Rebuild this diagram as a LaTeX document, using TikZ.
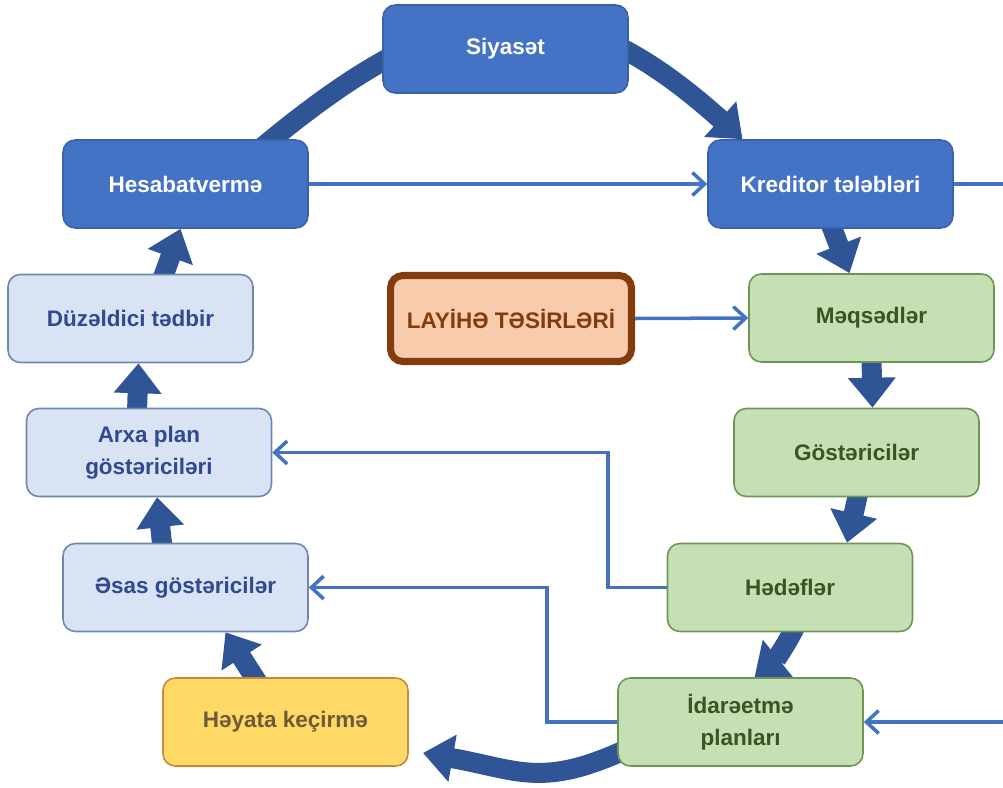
\documentclass[tikz,border=0pt]{standalone}
\usepackage{fontspec}
\setmainfont{Liberation Sans}
\usetikzlibrary{arrows.meta,calc,backgrounds}

\definecolor{boxblue}{HTML}{4472C4}
\definecolor{boxblueline}{HTML}{3A62AA}
\definecolor{flowblue}{HTML}{2F5597}
\definecolor{linkblue}{HTML}{4472C4}
\definecolor{lightfill}{HTML}{DAE3F3}
\definecolor{lightline}{HTML}{6C87B0}
\definecolor{lighttext}{HTML}{2F4A8F}
\definecolor{greenfill}{HTML}{C5E0B4}
\definecolor{greenline}{HTML}{6E9456}
\definecolor{greentext}{HTML}{375623}
\definecolor{impactfill}{HTML}{F8CBAD}
\definecolor{impactline}{HTML}{843C0C}
\definecolor{yellowfill}{HTML}{FFD966}
\definecolor{yellowline}{HTML}{C8893C}
\definecolor{yellowtext}{HTML}{6E5B3A}

\tikzset{
  box/.style={rectangle, rounded corners=7pt, minimum width=4.9cm, minimum height=1.76cm,
    line width=0.9pt, align=center, font=\fontsize{12.8}{18}\selectfont\bfseries},
  bluebox/.style={box, fill=boxblue, draw=boxblueline, text=white},
  lightbox/.style={box, fill=lightfill, draw=lightline, text=lighttext},
  greenbox/.style={box, fill=greenfill, draw=greenline, text=greentext},
  impactbox/.style={box, fill=impactfill, draw=impactline, text=impactline, line width=4pt,
    minimum width=4.82cm, minimum height=1.72cm},
  yellowbox/.style={box, fill=yellowfill, draw=yellowline, text=yellowtext},
  flow/.style={draw=flowblue, line width=0.4cm, -{Triangle[length=0.6cm,width=0.92cm]}},
  linkline/.style={draw=linkblue, line width=2pt},
  link/.style={linkline, -{Straight Barb[length=7pt,width=13pt]}},
}

\begin{document}
\begin{tikzpicture}[x=0.02cm,y=0.02cm]
\useasboundingbox (0,0) rectangle (1003,-787);

\node[bluebox] (siyaset) at (505.5,-49) {Siyasət};
\node[bluebox] (hesab) at (185.5,-184) {Hesabatvermə};
\node[bluebox] (kreditor) at (830.5,-184) {Kreditor tələbləri};
\node[lightbox] (duzeldici) at (130.5,-318.5) {Düzəldici tədbir};
\node[impactbox] (layihe) at (511,-318.5) {LAYİHƏ TƏSİRLƏRİ};
\node[greenbox] (meqsed) at (871.5,-318) {Məqsədlər};
\node[lightbox] (arxa) at (149,-452.5) {Arxa plan\\göstəriciləri};
\node[greenbox] (gost) at (856.5,-452.5) {Göstəricilər};
\node[lightbox] (esas) at (185.5,-587.5) {Əsas göstəricilər};
\node[greenbox] (hedef) at (790,-587.5) {Hədəflər};
\node[yellowbox] (heyata) at (285.5,-722) {Həyata keçirmə};
\node[greenbox] (idare) at (740.5,-722) {İdarəetmə\\planları};

\coordinate (rightA) at (1003,-184);
\coordinate (rightB) at (1003,-722);
\coordinate (bottomtip) at (423,-753);

\begin{scope}[on background layer]
\draw[flow] ($(hesab.north)+(72,-12)$) to[out=40,in=138,looseness=1.3] ($(kreditor.north)+(-88,0)$);
\draw[flow] ($(kreditor.south)+(0,5)$) -- ($(meqsed.north)+(-22,0)$);
\draw[flow] ($(meqsed.south)+(0,5)$) -- ($(gost.north)+(16,0)$);
\draw[flow] ($(gost.south)+(2,5)$) -- ($(hedef.north)+(57,0)$);
\draw[flow] ($(hedef.south)+(5,5)$) to[bend left=12] ($(idare.north)+(14,0)$);
\draw[flow] ($(idare.west)+(12,-26)$) to[out=205,in=-10,looseness=1.2] (bottomtip);
\draw[flow] ($(heyata.north)+(-28,-5)$) -- ($(esas.south)+(40,0)$);
\draw[flow] ($(esas.north)+(-23,-5)$) -- ($(arxa.south)+(8,0)$);
\draw[flow] ($(arxa.north)+(-12,-5)$) -- ($(duzeldici.south)+(8,0)$);
\draw[flow] ($(duzeldici.north)+(32,-5)$) -- ($(hesab.south)+(-5,0)$);
\end{scope}

\draw[link] (hesab.east) -- (kreditor.west);
\draw[linkline] (kreditor.east) -- (rightA);
\draw[link] (layihe.east) -- (meqsed.west);
\draw[link] (hedef.west) -- ++(-59,0) |- (arxa.east);
\draw[link] (idare.west) -- ++(-70,0) |- (esas.east);
\draw[link] (rightB) -- (idare.east);
\end{tikzpicture}
\end{document}
